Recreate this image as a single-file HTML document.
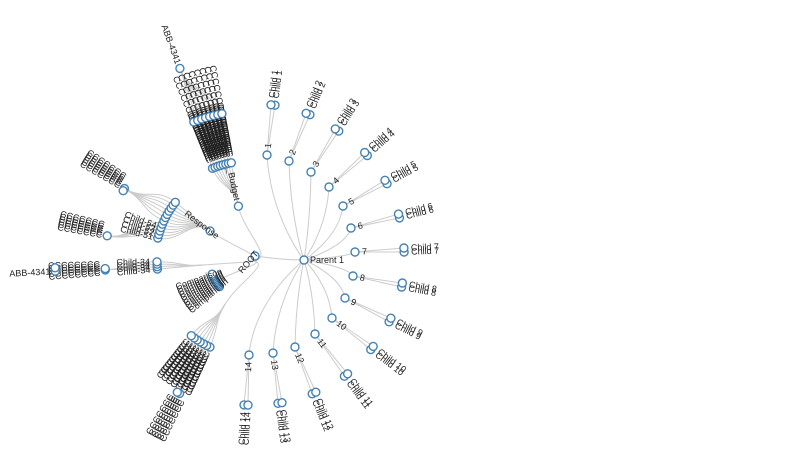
<!DOCTYPE html>
<html><head><meta charset="utf-8"><style>
html,body{margin:0;padding:0;background:#fff;width:800px;height:450px;overflow:hidden}
svg{display:block}
text{font-family:"Liberation Sans",sans-serif;font-size:9px;fill:#222}
.l{fill:none;stroke:#ccc;stroke-width:1}
.n{fill:#fff;stroke:#4682b4;stroke-width:1.4}
</style></head><body>
<svg id="s" width="800" height="450" xmlns="http://www.w3.org/2000/svg"></svg>
<script>
var s=document.getElementById('s'),CX=250,CY=261,out='';
function P(a,r){var t=a*Math.PI/180;return [CX+r*Math.cos(t),CY+r*Math.sin(t)];}
function link(a1,r1,a2,r2){var p=P(a1,r1),m=(r1+r2)/2,c1=P(a1,m),c2=P(a2,m),q=P(a2,r2);
out+='<path class="l" d="M'+p+'C'+c1+' '+c2+' '+q+'"/>';}
function node(a,r,rad){var p=P(a,r);nodeXY(p[0],p[1],rad);}
function nodeXY(x,y,rad){out+='<circle class="n" cx="'+x.toFixed(1)+'" cy="'+y.toFixed(1)+'" r="'+(rad||4)+'"/>';}
function labelXY(x,y,a,t,sz){var rot=a,anchor='start';
if(a>90||a<-90){rot=a+180;anchor='end';}
out+='<text x="'+x.toFixed(1)+'" y="'+y.toFixed(1)+'" dy="3" font-size="'+(sz||9)+'" text-anchor="'+anchor+'" transform="rotate('+rot.toFixed(1)+' '+x.toFixed(1)+' '+y.toFixed(1)+')">'+t+'</text>';}
function label(a,r,t,sz){var p=P(a,r);labelXY(p[0],p[1],a,t,sz);}
function ang(x1,y1,x2,y2){return Math.atan2(y2-y1,x2-x1)*180/Math.PI;}
// right tree, explicit
var PX=304,PY=260;
var N=[[267,155],[289,161],[311,172],[329,187],[343,206],[351,228],[355,252],[353,276],[345,298],[332,318],[315,334],[295,347],[273,353],[249,355]];
var Cc=[[273,105],[308,114],[337,130],[366,154],[386,182],[399,216],[404,250],[402,285],[390,320],[372,348],[346,375],[314,393],[280,403],[246,405]];
var R=[255,256];
out+='<path class="l" d="M'+R+'C270,258 285,260 '+PX+','+PY+'"/>';
N.forEach(function(n,i){var c=Cc[i];
 out+='<path class="l" d="M'+PX+','+PY+'C'+(PX)+','+(PY)+' '+(n[0]+(PX-n[0])*0.1)+','+(n[1]+(PY-n[1])*0.6)+' '+n+'"/>';
 var a=ang(n[0],n[1],c[0],c[1]);var t=(a+90)*Math.PI/180,ox=2*Math.cos(t),oy=2*Math.sin(t);
 out+='<path class="l" d="M'+n+'L'+(c[0]+ox)+','+(c[1]+oy)+'"/><path class="l" d="M'+n+'L'+(c[0]-ox)+','+(c[1]-oy)+'"/>';
});
// left tree links
function cluster(pa,pr,angs,r,sub){angs.forEach(function(a){link(pa,pr,a,r);if(sub)sub(a,r);});}
link(0,0,-102,56);link(0,0,-143,50);link(0,0,175,45);link(0,0,150,45);link(0,0,120,50);
var A=[];for(var k=0;k<8;k++)A.push(-112+k*1.6);
cluster(-102,56,A,100,function(a,r){link(a,r,a,150);});
A.forEach(function(a){link(a,150,-110,205);});
var B=[];for(var k=0;k<12;k++)B.push(-166+k*2.2);
cluster(-143,50,B,95,function(a,r){link(a,r,a<-155?-170:-150,145);});
var C=[];for(var k=0;k<4;k++)C.push(175+k*1.5);
cluster(175,45,C,93,function(a,r){link(a,r,176.5,145);});
link(176.5,145,177,195);
var D=[];for(var k=0;k<10;k++)D.push(140+k*2.3);
cluster(150,45,D,40);
var E=[];for(var k=0;k<7;k++)E.push(115+k*2.2);
cluster(120,50,E,95,function(a,r){link(a,r,118,150);});
// nodes
nodeXY(R[0],R[1]);
nodeXY(PX,PY);labelXY(PX+6,PY,0,'Parent 1',8);
N.forEach(function(n,i){var c=Cc[i];var a=ang(n[0],n[1],c[0],c[1]);var t=(a+90)*Math.PI/180,ox=2*Math.cos(t),oy=2*Math.sin(t);
 nodeXY(n[0],n[1]);var u=a*Math.PI/180;
 labelXY(n[0]+7*Math.cos(u),n[1]+7*Math.sin(u),a,String(i+1),7);
 nodeXY(c[0]+ox,c[1]+oy);nodeXY(c[0]-ox,c[1]-oy);
 labelXY(c[0]+7*Math.cos(u)-ox,c[1]+7*Math.sin(u)-oy,a,'Child '+(i+1),8);
 labelXY(c[0]+7*Math.cos(u)+ox,c[1]+7*Math.sin(u)+oy,a,'Child '+(i+1),8);
});
node(-102,56);label(-102,62,'St_Budget',7);
A.forEach(function(a){node(a,100);for(var j=0;j<6;j++)label(a,106+j*2,'CCCCCCC',7);node(a,150);});
A.forEach(function(a){label(a,160,'CCCCCC',7);});
node(-110,205);label(-110,210,'ABB-4341',7);
node(-143,50);label(-143,40,'Response',7);
B.forEach(function(a,k){node(a,95);if(k<4)label(a,100,'Child-'+(51+k),8);});
for(var j=0;j<6;j++){label(-170+j*0.8,150,'CCCCCCC',7);label(-150+j*0.8,150,'CCCCCCC',7);}
node(-170,145);node(-150,145);node(-151,145);
C.forEach(function(a){node(a,93);label(a,100,'Child-34',7);});
for(var j=0;j<5;j++)label(175.5+j*0.8,150,'CCCCCCCC',7);
node(176.5,145);node(177,145);node(177,195);node(178,195);label(177,200,'ABB-4341',8);
D.forEach(function(a){node(a,40);label(a,30,'Comparison',7);});
E.forEach(function(a){node(a,95);for(var j=0;j<4;j++)label(a,100+j*3,'CCCCCC',7);});
for(var j=0;j<6;j++)label(116+j*0.9,155,'CCCCCCC',7);
node(118,150);node(119,150);
labelXY(240,272,-50,'ROOT',8);
s.innerHTML=out;
</script>
</body></html>
